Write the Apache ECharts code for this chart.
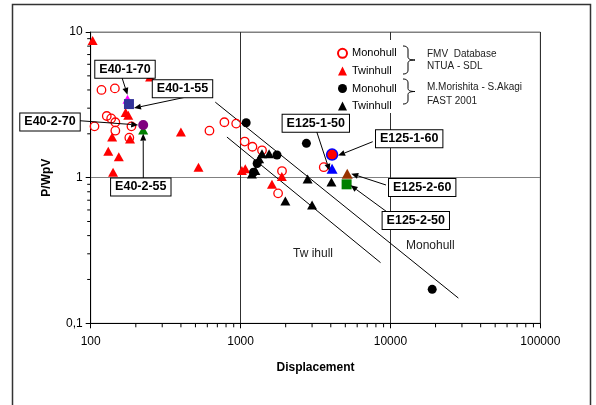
<!DOCTYPE html>
<html><head><meta charset="utf-8">
<script src="https://cdn.jsdelivr.net/npm/echarts@6/dist/echarts.min.js"></script>
<style>html,body{margin:0;padding:0;background:#fff}#c{width:596px;height:405px}</style>
</head><body><div id="c"></div>
<script>
// ---------- data ----------
const fmvMonohull = [[118,4.0],[145,4.1],[128,2.65],[137,2.55],[146,2.4],[106,2.25],[146,2.1],[187,2.25],[181,1.88],
  [620,2.1],[780,2.4],[935,2.35],[1065,1.77],[1200,1.63],[1390,1.54],[1890,1.11],[1780,0.78],[3590,1.18]];
const fmvTwinhull = [[103,8.75],[249,4.9],[171,2.8],[178,2.68],[139,1.9],[183,1.84],[131,1.52],[154,1.39],[141,1.09],
  [400,2.06],[524,1.18],[1075,1.15],[1020,1.12],[1620,0.9],[1885,1.02]];
const morMonohull = [[1090,2.38],[1750,1.43],[1290,1.25],[1220,1.09],[2750,1.72],[19000,0.171]];
const morTwinhull = [[1390,1.46],[1550,1.46],[1330,1.35],[1255,1.12],[1190,1.06],[2800,0.98],[4040,0.935],[1990,0.69],[3000,0.65]];
const e40_1_70 = [[176,3.45]];
const e40_1_55 = [[180,3.2]];
const e40_2_70 = [[224,2.3]];
const e40_2_55 = [[224,2.12]];
const e125_1_60 = [[4080,1.44]];
const e125_1_50 = [[4080,1.15]];
const e125_2_60 = [[5150,1.065]];
const e125_2_50 = [[5100,0.9]];
const monohullLine = [[678,3.30],[28400,0.149]];
const twinhullLine = [[811,1.90],[8590,0.261]];
const xMinorTicks = [200,300,400,500,600,700,800,900,2000,3000,4000,5000,6000,7000,8000,9000,20000,30000,40000,50000,60000,70000,80000,90000];
const yMinorTicks = [0.2,0.3,0.4,0.5,0.6,0.7,0.8,0.9,2,3,4,5,6,7,8,9];
const xMin = 100, xMax = 100000, yMin = 0.1, yMax = 10;
const legendNames = ['Monohull','Twinhull','Monohull ','Twinhull '];
const sourceTexts = ['FMV  Database','NTUA - SDL','M.Morishita - S.Akagi','FAST 2001'];

// ---------- layout / styling ----------
const FF = "'Liberation Sans', Arial, sans-serif";
const calloutLayout = [
  {name:'E40-1-70', pts:e40_1_70, box:[125,69.2], from:[121.7,76.7], tip:[0,-4.5]},
  {name:'E40-1-55', pts:e40_1_55, box:[182.5,88.7], from:[185,97.3], tip:[5,4]},
  {name:'E40-2-70', pts:e40_2_70, box:[50,122], from:[79.3,120.7], tip:[-5,0]},
  {name:'E40-2-55', pts:e40_2_55, box:[140.8,187], from:[143.3,180], tip:[0,3.5]},
  {name:'E125-1-50', pts:e125_1_50, box:[315.8,123.3], from:[316.7,131.7], tip:[-2.5,2]},
  {name:'E125-1-60', pts:e125_1_60, box:[409.2,138.7], from:[372.7,141.7], tip:[6,1]},
  {name:'E125-2-60', pts:e125_2_60, box:[422.2,187.5], from:[386,185], tip:[4,0]},
  {name:'E125-2-50', pts:e125_2_50, box:[415.8,220.5], from:[386.7,211.7], tip:[4,1]}
];

const chart = echarts.init(document.getElementById('c'), null, {renderer:'canvas'});

function sc(name, data, symbol, size, color, extra){
  const base = {type:'scatter', name, data, symbol, symbolSize:size,
    itemStyle:{color:color, opacity:1}, emphasis:{disabled:true}, z:3};
  const s = Object.assign(base, extra||{});
  s.itemStyle.opacity = 1;
  return s;
}

const option = {
  animation:false,
  backgroundColor:'#fff',
  textStyle:{fontFamily:FF},
  grid:{left:90.7, right:55.7, top:32, bottom:81.7, show:true, borderColor:'#808080', borderWidth:1, backgroundColor:'transparent'},
  legend:{orient:'vertical', left:332, top:41.5, itemWidth:9, itemHeight:9, itemGap:4, selectedMode:false,
    textStyle:{fontSize:11, fontFamily:FF, color:'#000', lineHeight:13.6}, data:legendNames},
  xAxis:{type:'log', logBase:10, min:xMin, max:xMax, interval:1,
    name:'Displacement', nameLocation:'middle', nameGap:38,
    nameTextStyle:{fontSize:12, fontWeight:'bold', color:'#000', fontFamily:FF},
    axisLine:{lineStyle:{color:'#000', width:1}},
    axisTick:{show:true, length:5, lineStyle:{color:'#000'}},
    axisLabel:{fontSize:12, color:'#000', margin:12, fontFamily:FF, formatter:v=>String(Math.round(v))},
    splitLine:{show:true, lineStyle:{color:'#303030', width:1}}},
  yAxis:{type:'log', logBase:10, min:yMin, max:yMax, interval:1,
    name:'P/WpV', nameLocation:'middle', nameGap:38,
    nameTextStyle:{fontSize:12, fontWeight:'bold', color:'#000', fontFamily:FF},
    axisLine:{lineStyle:{color:'#000', width:1}},
    axisTick:{show:true, length:5, lineStyle:{color:'#000'}},
    axisLabel:{fontSize:12, color:'#000', margin:8, fontFamily:FF, formatter:v=>String(v).replace('.',',')},
    splitLine:{show:true, lineStyle:{color:'#808080', width:1}}},
  series:[
    {type:'custom', name:'xminor', silent:true, clip:false, z:1,
      data:xMinorTicks.map(v=>[v,yMin]),
      renderItem:(p,api)=>{const a=api.coord([api.value(0),api.value(1)]);
        return {type:'line', shape:{x1:a[0],y1:a[1],x2:a[0],y2:a[1]+4}, style:{stroke:'#000',lineWidth:1}};}},
    {type:'custom', name:'yminor', silent:true, clip:false, z:1,
      data:yMinorTicks.map(v=>[xMin,v]),
      renderItem:(p,api)=>{const a=api.coord([api.value(0),api.value(1)]);
        return {type:'line', shape:{x1:a[0]-3.5,y1:a[1],x2:a[0],y2:a[1]}, style:{stroke:'#000',lineWidth:1}};}},
    {type:'line', name:'monoLine', data:monohullLine, symbol:'none', silent:true, lineStyle:{color:'#000', width:1}, z:2},
    {type:'line', name:'twinLine', data:twinhullLine, symbol:'none', silent:true, lineStyle:{color:'#000', width:1}, z:2},
    sc('Monohull', fmvMonohull, 'circle', 8.5, 'rgba(255,255,255,0)', {itemStyle:{color:'rgba(255,255,255,0)', borderColor:'#ff0000', borderWidth:1.3}}),
    sc('Twinhull', fmvTwinhull, 'triangle', [10,9], '#ff0000'),
    sc('Monohull ', morMonohull, 'circle', 9, '#000000'),
    sc('Twinhull ', morTwinhull, 'triangle', [10,9], '#000000'),
    sc('E40-1-70', e40_1_70, 'triangle', [10,9], '#ff00ff', {z:4}),
    sc('E40-1-55', e40_1_55, 'rect', 10, '#333399', {z:4}),
    sc('E40-2-70', e40_2_70, 'circle', 10, '#800080', {z:4}),
    sc('E40-2-55', e40_2_55, 'triangle', [10,9], '#008000', {z:3}),
    sc('E125-1-60', e125_1_60, 'circle', 11, '#ff0000', {z:4, itemStyle:{color:'#ff0000', borderColor:'#0000ff', borderWidth:1.5}}),
    sc('E125-1-50', e125_1_50, 'triangle', [11,10], '#0000ff', {z:4}),
    sc('E125-2-60', e125_2_60, 'triangle', [11,10], '#993300', {z:4}),
    sc('E125-2-50', e125_2_50, 'rect', 10, '#008000', {z:3})
  ]
};
chart.setOption(option);

function arrow(x1,y1,x2,y2){
  const ang=Math.atan2(y2-y1,x2-x1), L=7, W=3;
  const bx=x2-L*Math.cos(ang), by=y2-L*Math.sin(ang);
  const nx=-Math.sin(ang), ny=Math.cos(ang);
  return [
    {type:'line', z:10, silent:true, shape:{x1:x1,y1:y1,x2:bx,y2:by}, style:{stroke:'#000',lineWidth:1}},
    {type:'polygon', z:10, silent:true, shape:{points:[[x2,y2],[bx+W*nx,by+W*ny],[bx-W*nx,by-W*ny]]}, style:{fill:'#000'}}
  ];
}
function quad(p0,c,p1,out){
  for(let i=0;i<=8;i++){const t=i/8,u=1-t;
    out.push([u*u*p0[0]+2*u*t*c[0]+t*t*p1[0], u*u*p0[1]+2*u*t*c[1]+t*t*p1[1]]);}
}
function brace(x0,top,bot,tipX){
  const mid=(top+bot)/2, xs=x0+5, pts=[];
  quad([x0,top],[xs,top],[xs,top+4],pts);
  quad([xs,mid-3],[xs,mid],[tipX,mid],pts);
  quad([tipX,mid],[xs,mid],[xs,mid+3],pts);
  quad([xs,bot-4],[xs,bot],[x0,bot],pts);
  return {type:'polyline', z:5, silent:true, shape:{points:pts}, style:{fill:null, stroke:'#000', lineWidth:1}};
}

const g = [];
g.push({type:'rect', z:0, silent:true, shape:{x:12.5,y:4.5,width:578,height:520}, style:{fill:null, stroke:'#333', lineWidth:1.5}});
g.push({type:'rect', z:1, silent:true, shape:{x:325,y:40,width:212,height:73}, style:{fill:'#fff'}});
g.push(brace(403,46,74,415));
g.push(brace(403,79,104,415));
const srcY = [53.8, 66.7, 87.5, 101];
sourceTexts.forEach((t,i)=>g.push({type:'text', z:5, silent:true, style:{text:t, x:427, y:srcY[i], verticalAlign:'middle', align:'left', font:'10px '+FF, fill:'#222'}}));
g.push({type:'text', z:5, silent:true, style:{text:'Tw ihull', x:293, y:254, verticalAlign:'middle', align:'left', font:'12px '+FF, fill:'#222'}});
g.push({type:'text', z:5, silent:true, style:{text:'Monohull', x:406, y:245.7, verticalAlign:'middle', align:'left', font:'12px '+FF, fill:'#222'}});
calloutLayout.forEach(c=>{
  const p = chart.convertToPixel({gridIndex:0}, c.pts[0]);
  arrow(c.from[0], c.from[1], p[0]+c.tip[0], p[1]+c.tip[1]).forEach(e=>g.push(e));
  g.push({type:'text', z:11, silent:true, style:{text:c.name, x:c.box[0], y:c.box[1], align:'center', verticalAlign:'middle',
    font:'bold 12.5px '+FF, fill:'#000', backgroundColor:'#fff', borderColor:'#000', borderWidth:1, padding:[2,4,1,4], lineHeight:14}});
});
chart.setOption({graphic:{elements:g}});
</script></body></html>
